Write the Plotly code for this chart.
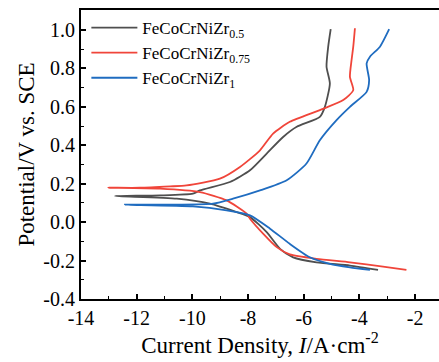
import plotly.graph_objects as go

# Zr0.5 (gray)
x_05 = [-3.33, -4.34, -5.54, -6.38, -6.85, -7.33, -7.93, -8.41, -9.37, -10.56, -12.78,
        -11.16, -9.98, -9.73, -8.65, -7.93, -7.33, -6.74, -6.25, -5.42, -5.24, -5.06, -5.18, -5.12, -5.03]
y_05 = [-0.248, -0.226, -0.209, -0.183, -0.139, -0.052, 0.026, 0.052, 0.096, 0.122, 0.136,
        0.139, 0.148, 0.165, 0.209, 0.270, 0.357, 0.443, 0.496, 0.548, 0.600, 0.722, 0.809, 0.913, 1.004]

# Zr0.75 (red)
x_075 = [-2.31, -3.15, -4.34, -5.54, -6.50, -6.97, -7.45, -7.93, -8.05, -8.77, -9.73, -11.16, -13.02,
         -11.88, -10.80, -10.21, -9.01, -8.29, -7.57, -7.10, -6.50, -5.42, -4.58, -4.22, -4.34, -4.28, -4.22, -4.16]
y_075 = [-0.248, -0.231, -0.209, -0.191, -0.168, -0.130, -0.061, 0.018, 0.044, 0.113, 0.156, 0.174, 0.179,
         0.179, 0.186, 0.191, 0.226, 0.287, 0.374, 0.461, 0.522, 0.583, 0.635, 0.687, 0.756, 0.844, 0.913, 1.009]

# Zr1 (blue)
x_1 = [-3.62, -4.34, -5.06, -5.78, -6.50, -7.21, -7.93, -8.77, -9.98, -12.42,
       -10.56, -9.26, -8.54, -7.57, -6.61, -5.90, -5.42, -4.82, -4.34, -3.74, -3.65, -3.74, -3.62, -3.26, -2.93]
y_1 = [-0.248, -0.235, -0.217, -0.183, -0.113, -0.034, 0.035, 0.061, 0.082, 0.091,
       0.091, 0.096, 0.122, 0.165, 0.218, 0.305, 0.426, 0.531, 0.600, 0.678, 0.739, 0.826, 0.861, 0.913, 1.004]

x_ticks = [-14, -12, -10, -8, -6, -4, -2]
x_ticktext = ["-14", "-12", "-10", "-8", "-6", "-4", "-2"]
y_ticks = [-0.4, -0.2, 0.0, 0.2, 0.4, 0.6, 0.8, 1.0]
y_ticktext = ["-0.4", "-0.2", "0.0", "0.2", "0.4", "0.6", "0.8", "1.0"]

names = ["FeCoCrNiZr<sub>0.5</sub>", "FeCoCrNiZr<sub>0.75</sub>", "FeCoCrNiZr<sub>1</sub>"]
colors = ["#4f4f4f", "#f0453a", "#1f6cc0"]

font = "Liberation Serif"

fig = go.Figure()
for xs, ys, n, c in zip([x_05, x_075, x_1], [y_05, y_075, y_1], names, colors):
    fig.add_trace(go.Scatter(x=xs, y=ys, mode="lines", name=n,
                             line=dict(color=c, width=1.8, shape="spline", smoothing=0.6)))

fig.update_layout(
    width=439, height=362,
    margin=dict(l=81, r=0, t=10, b=63),
    plot_bgcolor="white", paper_bgcolor="white",
    font=dict(family=font, size=20, color="black"),
    showlegend=True,
    legend=dict(x=0.015, y=1.0, xanchor="left", yanchor="top", bgcolor="rgba(0,0,0,0)",
                font=dict(size=17, family=font, color="black"), itemwidth=46),
    xaxis=dict(range=[-14, -1.14], tickvals=x_ticks, ticktext=x_ticktext,
               tickfont=dict(family=font, size=20, color="black"),
               showline=True, linecolor="black", linewidth=2, mirror=True,
               ticks="inside", ticklen=5, tickwidth=1.5, tickcolor="black",
               minor=dict(dtick=1, ticks="inside", ticklen=3, tickcolor="black", tickwidth=1.2),
               showgrid=False, zeroline=False,
               title=dict(text="Current Density, <i>I</i>/A·cm<sup>-2</sup>", standoff=6,
                          font=dict(family=font, size=23, color="black"))),
    yaxis=dict(range=[-0.4, 1.104], tickvals=y_ticks, ticktext=y_ticktext,
               tickfont=dict(family=font, size=20, color="black"),
               showline=True, linecolor="black", linewidth=2, mirror=False,
               ticks="inside", ticklen=5, tickwidth=1.5, tickcolor="black",
               minor=dict(dtick=0.1, ticks="inside", ticklen=3, tickcolor="black", tickwidth=1.2),
               showgrid=False, zeroline=False,
               title=dict(text="Potential/V vs. SCE", standoff=2,
                          font=dict(family=font, size=23, color="black"))),
)
fig.write_html("out.html")
